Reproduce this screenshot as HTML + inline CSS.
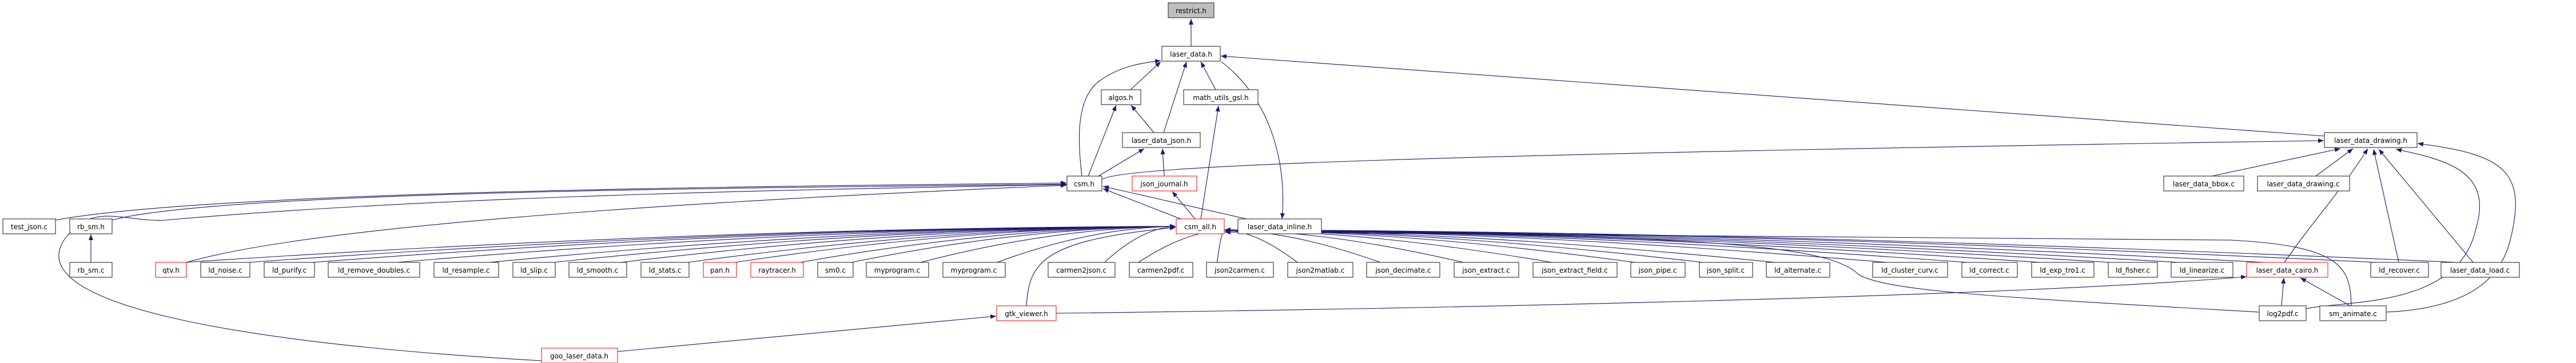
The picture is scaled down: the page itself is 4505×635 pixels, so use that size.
<!DOCTYPE html>
<html><head><meta charset="utf-8"><style>
html,body{margin:0;padding:0;background:#fff;width:4505px;height:635px;overflow:hidden}
svg text{font-family:"DejaVu Sans","Liberation Sans",sans-serif;font-size:12px;fill:#000;text-anchor:middle}
</style></head><body>
<svg id="g" width="4505" height="635" viewBox="0 0 4505 635" xmlns="http://www.w3.org/2000/svg">
<defs><marker id="a" markerUnits="userSpaceOnUse" markerWidth="11" markerHeight="8" refX="10" refY="4" orient="auto"><path d="M0,0 L10,4 L0,8 z" fill="#191970"/></marker></defs>
<g id="edges" fill="none" stroke="#191970" stroke-width="1.1" marker-end="url(#a)">
<path d="M2083,81 L2083,33"/>
<path d="M1977,157 L2030,108"/>
<path d="M2126,157 L2100,108"/>
<path d="M2035,232 L2075,108"/>
<path d="M2018,232 L1978,184"/>
<path d="M1892,308 C1885,250 1880,170 1925,140 C1960,115 2000,110 2030,106"/>
<path d="M1903,308 L1952,184"/>
<path d="M1921,308 L2001,260"/>
<path d="M2136,108 C2230,180 2250,300 2242,383"/>
<path d="M4065,238 L2135,98"/>
<path d="M1927,314 C1960,290 2500,270 4064,246"/>
<path d="M2036,308 L2033,260"/>
<path d="M2065,383 L1929,330"/>
<path d="M2090,383 L2050,335"/>
<path d="M2100,383 L2131,185"/>
<path d="M2180,383 L1929,326"/>
<path d="M97,385 C400,330 1500,325 1865,320"/>
<path d="M196,385 C400,330 1500,328 1865,322"/>
<path d="M326,459 C600,380 1500,340 1865,324"/>
<path d="M947,631 C400,600 40,530 112,420 C160,350 220,390 290,385 C800,340 1500,330 1865,323"/>
<path d="M159,459 L159,410"/>
<path d="M1795,535 C1800,460 1820,420 2056,398"/>
<path d="M1080,615 L1742,553"/>
<path d="M1847,548 C2500,540 3500,520 3929,484"/>
<path d="M3995,459 C4050,380 4090,340 4141,260"/>
<path d="M3990,535 L3994,486"/>
<path d="M4110,535 L4023,486"/>
<path d="M4033,540 C4100,525 4300,540 4330,400 C4360,300 4280,280 4190,261"/>
<path d="M4173,546 C4300,540 4370,500 4390,420 C4420,300 4380,270 4228,251"/>
<path d="M4195,459 L4151,261"/>
<path d="M4325,459 L4160,261"/>
<path d="M3868,308 L4093,260"/>
<path d="M4050,308 L4115,260"/>
<path d="M3951,546 C3500,520 3300,510 3250,480 C3200,430 3000,410 2142,404"/>
<path d="M4112,535 C4110,470 4100,430 3900,420 C3000,410 2500,413 2142,406"/>
</g>
</svg>
<script>
(function(){
var E=document.getElementById('edges');
var L=[[272,326],[351,437],[462,550],[574,734],[759,872],[897,971],[995,1096],[1121,1205],[1230,1288],[1313,1405],[1430,1492],[1515,1624],[1649,1758],[1833,1950],[1975,2086],[2110,2227],[2252,2366],[2390,2518],[2543,2656],[2681,2828],[2852,2947],[2972,3065],[3089,3200],[3275,3406],[3431,3528],[3553,3662],[3687,3773],[3797,3905],[3929,4071],[4146,4247],[4269,4406]];
L.forEach(function(b){var d;
 if(b[1]<2057){var sx=Math.min(b[1]-3,(b[0]+b[1])/2+40);d='M'+sx+',459 C'+(sx+(2057-sx)*0.25)+',430 '+(2057-(2057-sx)*0.4)+',398 2056,396';}
 else {var sx=Math.max(b[0]+3,(b[0]+b[1])/2-40);d='M'+sx+',459 C'+(sx-(sx-2141)*0.25)+',435 '+(2141+(sx-2141)*0.4)+',405 2142,402';}
 var p=document.createElementNS('http://www.w3.org/2000/svg','path');p.setAttribute('d',d);E.appendChild(p);});
})();
</script>
<svg width="4505" height="635" viewBox="0 0 4505 635" style="position:absolute;left:0;top:0" xmlns="http://www.w3.org/2000/svg">
<style>.n{fill:#fff;stroke:#404040;stroke-width:1.2}.r{fill:#fff;stroke:#f00;stroke-width:1}</style>
<g>
<rect x="2043" y="5" width="80" height="26" class="n" style="fill:#bfbfbf"/><text x="2083" y="23">restrict.h</text>
<rect x="2032" y="81" width="102" height="26" class="n"/><text x="2083" y="99">laser_data.h</text>
<rect x="1926" y="157" width="69" height="26" class="n"/><text x="1960" y="175">algos.h</text>
<rect x="2070" y="157" width="130" height="26" class="n"/><text x="2135" y="175">math_utils_gsl.h</text>
<rect x="1963" y="232" width="136" height="26" class="n"/><text x="2031" y="250">laser_data_json.h</text>
<rect x="4065" y="232" width="162" height="26" class="n"/><text x="4146" y="250">laser_data_drawing.h</text>
<rect x="1866" y="308" width="61" height="26" class="n"/><text x="1896" y="326">csm.h</text>
<rect x="1980" y="308" width="113" height="26" class="r"/><text x="2036" y="326">json_journal.h</text>
<rect x="3784" y="308" width="140" height="26" class="n"/><text x="3854" y="326">laser_data_bbox.c</text>
<rect x="3948" y="308" width="161" height="26" class="n"/><text x="4028" y="326">laser_data_drawing.c</text>
<rect x="2057" y="383" width="84" height="26" class="r"/><text x="2099" y="401">csm_all.h</text>
<rect x="2165" y="383" width="146" height="26" class="n"/><text x="2238" y="401">laser_data_inline.h</text>
<rect x="5" y="383" width="92" height="26" class="n"/><text x="51" y="401">test_json.c</text>
<rect x="122" y="383" width="74" height="26" class="n"/><text x="159" y="401">rb_sm.h</text>
<rect x="122" y="459" width="74" height="26" class="n"/><text x="159" y="477">rb_sm.c</text>
<rect x="272" y="459" width="54" height="26" class="r"/><text x="299" y="477">qtv.h</text>
<rect x="351" y="459" width="86" height="26" class="n"/><text x="394" y="477">ld_noise.c</text>
<rect x="462" y="459" width="88" height="26" class="n"/><text x="506" y="477">ld_purify.c</text>
<rect x="574" y="459" width="160" height="26" class="n"/><text x="654" y="477">ld_remove_doubles.c</text>
<rect x="759" y="459" width="113" height="26" class="n"/><text x="815" y="477">ld_resample.c</text>
<rect x="897" y="459" width="74" height="26" class="n"/><text x="934" y="477">ld_slip.c</text>
<rect x="995" y="459" width="101" height="26" class="n"/><text x="1045" y="477">ld_smooth.c</text>
<rect x="1121" y="459" width="84" height="26" class="n"/><text x="1163" y="477">ld_stats.c</text>
<rect x="1230" y="459" width="58" height="26" class="r"/><text x="1259" y="477">pan.h</text>
<rect x="1313" y="459" width="92" height="26" class="r"/><text x="1359" y="477">raytracer.h</text>
<rect x="1430" y="459" width="62" height="26" class="n"/><text x="1461" y="477">sm0.c</text>
<rect x="1515" y="459" width="109" height="26" class="n"/><text x="1569" y="477">myprogram.c</text>
<rect x="1649" y="459" width="109" height="26" class="n"/><text x="1703" y="477">myprogram.c</text>
<rect x="1833" y="459" width="117" height="26" class="n"/><text x="1891" y="477">carmen2json.c</text>
<rect x="1975" y="459" width="111" height="26" class="n"/><text x="2030" y="477">carmen2pdf.c</text>
<rect x="2110" y="459" width="117" height="26" class="n"/><text x="2168" y="477">json2carmen.c</text>
<rect x="2252" y="459" width="114" height="26" class="n"/><text x="2309" y="477">json2matlab.c</text>
<rect x="2390" y="459" width="128" height="26" class="n"/><text x="2454" y="477">json_decimate.c</text>
<rect x="2543" y="459" width="113" height="26" class="n"/><text x="2599" y="477">json_extract.c</text>
<rect x="2681" y="459" width="147" height="26" class="n"/><text x="2754" y="477">json_extract_field.c</text>
<rect x="2852" y="459" width="95" height="26" class="n"/><text x="2899" y="477">json_pipe.c</text>
<rect x="2972" y="459" width="93" height="26" class="n"/><text x="3018" y="477">json_split.c</text>
<rect x="3089" y="459" width="111" height="26" class="n"/><text x="3144" y="477">ld_alternate.c</text>
<rect x="3275" y="459" width="131" height="26" class="n"/><text x="3340" y="477">ld_cluster_curv.c</text>
<rect x="3431" y="459" width="97" height="26" class="n"/><text x="3479" y="477">ld_correct.c</text>
<rect x="3553" y="459" width="109" height="26" class="n"/><text x="3607" y="477">ld_exp_tro1.c</text>
<rect x="3687" y="459" width="86" height="26" class="n"/><text x="3730" y="477">ld_fisher.c</text>
<rect x="3797" y="459" width="108" height="26" class="n"/><text x="3851" y="477">ld_linearize.c</text>
<rect x="3929" y="459" width="142" height="26" class="r"/><text x="4000" y="477">laser_data_cairo.h</text>
<rect x="4146" y="459" width="101" height="26" class="n"/><text x="4196" y="477">ld_recover.c</text>
<rect x="4269" y="459" width="137" height="26" class="n"/><text x="4337" y="477">laser_data_load.c</text>
<rect x="1743" y="535" width="104" height="26" class="r"/><text x="1795" y="553">gtk_viewer.h</text>
<rect x="3951" y="535" width="82" height="26" class="n"/><text x="3992" y="553">log2pdf.c</text>
<rect x="4057" y="535" width="116" height="26" class="n"/><text x="4115" y="553">sm_animate.c</text>
<rect x="947" y="609" width="133" height="26" class="r"/><text x="1013" y="627">goo_laser_data.h</text>
</g>
</svg>
</body></html>
